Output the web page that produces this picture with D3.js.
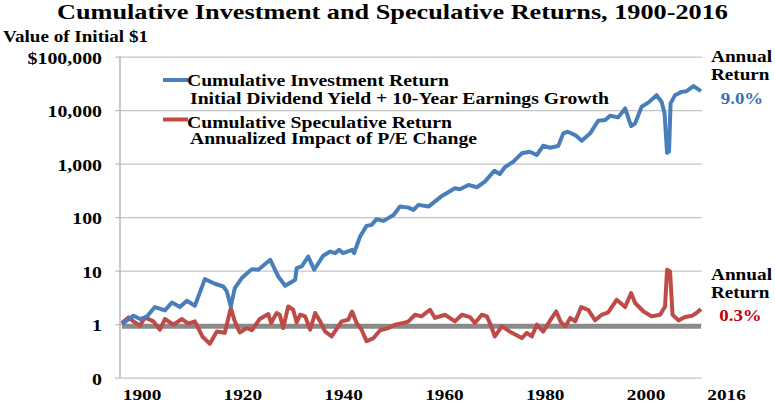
<!DOCTYPE html>
<html>
<head>
<meta charset="utf-8">
<script src="https://cdn.jsdelivr.net/npm/d3@7"></script>
<style>
  body { margin: 0; background: #fff; }
  svg text { font-family: "Liberation Serif", "Times New Roman", serif; font-weight: bold; }
</style>
</head>
<body>
<svg width="775" height="404"></svg>
<script>
// Cumulative investment return (blue)
const investYears = [1900, 1902.3, 1903.6, 1904.9, 1906.6, 1908.6, 1910.0, 1911.6, 1913.0, 1914.6,
  1916.6, 1918.6, 1920.3, 1921.0, 1921.8, 1922.6, 1924.0, 1926.0, 1927.3, 1929.7,
  1931.3, 1932.7, 1934.7, 1935.0, 1936.0, 1937.3, 1938.5, 1940.3, 1941.7, 1942.7,
  1943.5, 1944.3, 1946.1, 1946.5, 1947.7, 1949.0, 1950.0, 1951.0, 1952.4, 1954.4,
  1955.7, 1957.4, 1958.4, 1959.4, 1961.4, 1964.1, 1966.7, 1967.7, 1969.4, 1971.1,
  1972.7, 1974.6, 1975.7, 1976.7, 1978.4, 1980.1, 1981.7, 1983.1, 1984.4, 1985.8,
  1987.4, 1988.4, 1989.3, 1990.8, 1992.1, 1993.8, 1995.4, 1996.8, 1997.8, 1999.4,
  2000.8, 2002.0, 2002.8, 2004.1, 2005.5, 2007.1, 2008.1, 2008.7, 2009.2, 2009.6,
  2009.9, 2010.8, 2012.1, 2013.1, 2014.5, 2016];
const investValues = [1.0, 1.44, 1.25, 1.36, 2.09, 1.81, 2.55, 2.09, 2.74, 2.21,
  6.97, 5.7, 5.07, 4.09, 2.15, 4.73, 7.28, 10.7, 10.4, 16.0,
  7.8, 5.23, 6.76, 11.2, 12.0, 18.4, 10.4, 19.0, 22.8, 21.3,
  24.5, 21.3, 24.5, 21.3, 43.5, 68.8, 71.8, 91.8, 85.3, 110,
  158, 151, 137, 170, 158, 250, 347, 333, 401, 363,
  462, 740, 642, 857, 1090, 1563, 1675, 1453, 2167, 1988,
  2138, 3690, 3955, 3430, 2685, 3690, 6340, 6530, 7870, 7340,
  10800, 5050, 5670, 11600, 14000, 19100, 14400, 8710, 1600, 1700,
  13400, 19100, 22000, 22700, 28200, 22700];

// Cumulative speculative return (red)
const specYears = [1900, 1901.3, 1902.3, 1903.6, 1904.6, 1906.3, 1907.6, 1908.6, 1910.3, 1912.0,
  1913.3, 1914.6, 1916.1, 1917.6, 1919.0, 1920.6, 1921.8, 1922.6, 1923.6, 1925.0,
  1926.0, 1927.6, 1929.3, 1929.9, 1930.6, 1931.0, 1931.6, 1932.3, 1933.3, 1934.3,
  1935.0, 1935.7, 1936.7, 1937.7, 1938.7, 1939.7, 1940.7, 1942.0, 1944.0, 1945.3,
  1946.1, 1947.0, 1948.0, 1949.0, 1950.4, 1951.7, 1953.4, 1954.7, 1956.4, 1957.4,
  1958.7, 1960.0, 1961.7, 1962.7, 1964.7, 1966.7, 1968.1, 1969.7, 1970.7, 1972.1,
  1973.1, 1973.7, 1974.7, 1976.1, 1978.1, 1980.1, 1981.1, 1982.1, 1983.1, 1984.4,
  1986.1, 1987.0, 1987.9, 1988.8, 1989.8, 1990.8, 1992.0, 1993.4, 1994.8, 1996.1,
  1997.4, 1999.1, 2000.8, 2002.0, 2002.8, 2004.5, 2006.1, 2007.8, 2008.8, 2009.2,
  2009.8, 2010.3, 2011.5, 2012.8, 2014.2, 2015.1, 2016];
const specValues = [1.05, 1.34, 1.13, 0.94, 1.34, 1.13, 0.79, 1.25, 0.98, 1.25,
  1.02, 1.13, 0.59, 0.43, 0.73, 0.69, 2.01, 1.13, 0.70, 0.85,
  0.77, 1.25, 1.55, 1.05, 1.40, 1.62, 1.50, 0.85, 2.15, 1.86,
  1.08, 1.50, 1.40, 0.79, 1.62, 1.13, 0.73, 0.59, 1.13, 1.21,
  1.73, 1.05, 0.79, 0.48, 0.55, 0.77, 0.85, 0.98, 1.05, 1.13,
  1.50, 1.40, 1.86, 1.31, 1.50, 1.13, 1.50, 1.36, 1.05, 1.50,
  1.40, 1.05, 0.59, 0.91, 0.69, 0.55, 0.69, 0.59, 0.98, 0.73,
  1.31, 1.73, 1.10, 0.91, 1.31, 1.13, 2.09, 1.86, 1.18, 1.50,
  1.66, 2.86, 2.09, 3.82, 2.49, 1.73, 1.40, 1.50, 2.15, 10.4,
  9.66, 1.50, 1.18, 1.36, 1.44, 1.62, 1.92];

const baseline = [1, 1];   // the grey "no change" line
const yTicks = [0.1, 1, 10, 100, 1000, 10000, 100000];
const yTickLabels = ["0", "1", "10", "100", "1,000", "10,000", "$100,000"];
const xTicks = [1900, 1920, 1940, 1960, 1980, 2000, 2016];

const svg = d3.select("svg");
const blue = "#4a7ebb", red = "#be4b48";

const x = d3.scaleLinear().domain([1900, 2016]).range([122, 701]);
// the year labels sit a little to the right of the data in the original
const xLabel = d3.scaleLinear().domain([1900, 2000]).range([142, 646]);
const y = d3.scaleLog().domain([0.1, 100000]).range([377.7, 56.7]);

// the original's lettering is wide; stretch each text to a set width
function stretch(sel, widthOrFactor, isFactor) {
  sel.each(function () {
    const w = isFactor ? this.getComputedTextLength() * widthOrFactor : widthOrFactor;
    d3.select(this).attr("textLength", w).attr("lengthAdjust", "spacingAndGlyphs");
  });
}

// gridlines + tick labels
const yAxis = d3.axisLeft(y)
  .tickValues(yTicks)
  .tickSize(-(702 - 115))
  .tickPadding(13)
  .tickFormat((d, i) => yTickLabels[i]);

const gy = svg.append("g")
  .attr("transform", "translate(115,0)")
  .call(yAxis);
gy.select(".domain").remove();
gy.selectAll(".tick line").attr("stroke", "#c4c4c4").attr("stroke-width", 1.2);
gy.selectAll(".tick text")
  .attr("fill", "#000")
  .attr("dy", "0.4em")
  .style("font-size", "16px")
  .call(stretch, 1.24, true);

// vertical axis line
svg.append("line")
  .attr("x1", 120).attr("x2", 120)
  .attr("y1", y(100000)).attr("y2", y(0.1))
  .attr("stroke", "#a6a6a6").attr("stroke-width", 1.2);

// x labels (the original crops them at the bottom edge; keep them whole)
svg.append("g").selectAll("text")
  .data(xTicks)
  .join("text")
  .attr("x", d => xLabel(d))
  .attr("y", 400)
  .attr("text-anchor", "middle")
  .style("font-size", "15px")
  .text(d => d)
  .call(stretch, 38.5);

// grey line at 1
svg.append("line")
  .attr("x1", x(1900)).attr("x2", x(2016))
  .attr("y1", y(baseline[0]) + 2).attr("y2", y(baseline[1]) + 2)
  .attr("stroke", "#8a8a8a").attr("stroke-width", 5);

const line = d3.line()
  .x(d => x(d[0]))
  .y(d => y(d[1]))
  .curve(d3.curveLinear);

svg.append("path")
  .datum(specYears.map((yr, i) => [yr, specValues[i]]))
  .attr("d", line)
  .attr("fill", "none")
  .attr("stroke", red)
  .attr("stroke-width", 4)
  .attr("stroke-linejoin", "round");

svg.append("path")
  .datum(investYears.map((yr, i) => [yr, investValues[i]]))
  .attr("d", line)
  .attr("fill", "none")
  .attr("stroke", blue)
  .attr("stroke-width", 4)
  .attr("stroke-linejoin", "round");

// title and axis caption
svg.append("text")
  .attr("x", 57).attr("y", 18.5)
  .style("font-size", "22px")
  .text("Cumulative Investment and Speculative Returns, 1900-2016")
  .call(stretch, 671);

svg.append("text")
  .attr("x", 3).attr("y", 41.7)
  .style("font-size", "16px")
  .text("Value of Initial $1")
  .call(stretch, 145);

// legend
const legend = [
  { color: blue, y: 80, t1: 86, t2: 104, lines: ["Cumulative Investment Return", "Initial Dividend Yield + 10-Year Earnings Growth"], w: [262, 419] },
  { color: red, y: 119.5, t1: 127.5, t2: 143.5, lines: ["Cumulative Speculative Return", "Annualized Impact of P/E Change"], w: [265, 287] }
];
const lg = svg.append("g").selectAll("g")
  .data(legend)
  .join("g");
lg.append("line")
  .attr("x1", 163).attr("x2", 188)
  .attr("y1", d => d.y).attr("y2", d => d.y)
  .attr("stroke", d => d.color).attr("stroke-width", 4);
lg.append("text")
  .attr("x", 187).attr("y", d => d.t1)
  .style("font-size", "16px")
  .text(d => d.lines[0])
  .each(function (d) { d3.select(this).call(stretch, d.w[0]); });
lg.append("text")
  .attr("x", 190).attr("y", d => d.t2)
  .style("font-size", "16px")
  .text(d => d.lines[1])
  .each(function (d) { d3.select(this).call(stretch, d.w[1]); });

// right-hand annotations
const notes = [
  { y: [61.7, 80, 104.3], value: "9.0%", color: "#3d6fb0", cx: 742 },
  { y: [280, 298.3, 320.7], value: "0.3%", color: "#c00000", cx: 740.5 }
];
const ng = svg.append("g").selectAll("g")
  .data(notes)
  .join("g");
ng.append("text").attr("x", 711).attr("y", d => d.y[0]).style("font-size", "16px").text("Annual").call(stretch, 61);
ng.append("text").attr("x", 711).attr("y", d => d.y[1]).style("font-size", "16px").text("Return").call(stretch, 58.5);
ng.append("text").attr("x", d => d.cx).attr("y", d => d.y[2])
  .attr("text-anchor", "middle")
  .style("font-size", "16px")
  .attr("fill", d => d.color)
  .text(d => d.value)
  .call(stretch, 42.5);
</script>
</body>
</html>
